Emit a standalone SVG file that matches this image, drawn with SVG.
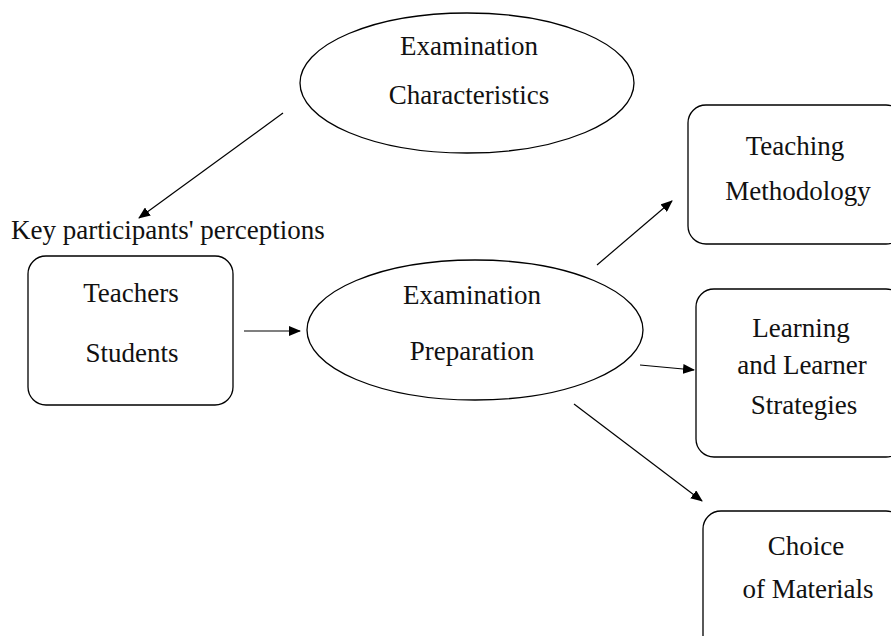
<svg xmlns="http://www.w3.org/2000/svg" width="891" height="636" viewBox="0 0 891 636">
<defs>
<style>
.shape{fill:#ffffff;stroke:#000000;stroke-width:1.3}
.lbl{font-family:'Liberation Serif','DejaVu Serif','Times New Roman',serif;font-size:27px;fill:#111111;text-anchor:middle}
.free{font-family:'Liberation Serif','DejaVu Serif','Times New Roman',serif;font-size:27px;fill:#111111}
.conn{stroke:#000000;stroke-width:1.2;fill:none;marker-end:url(#arrow)}
</style>
<marker id="arrow" viewBox="0 0 12 10" refX="11" refY="5" markerWidth="12" markerHeight="10" markerUnits="userSpaceOnUse" orient="auto">
<path d="M0,0 L12,5 L0,10 Z" fill="#000000"/>
</marker>
</defs>
<rect width="891" height="636" fill="#ffffff"/>
<g id="examination-characteristics">
<ellipse class="shape" cx="467" cy="83" rx="167" ry="70"/>
<text class="lbl" x="469" y="55" font-family="Liberation Serif, serif">Examination</text>
<text class="lbl" x="469" y="104" font-family="Liberation Serif, serif">Characteristics</text>
</g>
<g id="key-participants-label">
<text class="free" x="11" y="239" font-family="Liberation Serif, serif">Key participants' perceptions</text>
</g>
<g id="teachers-students">
<rect class="shape" x="28" y="256" width="205" height="149" rx="18" ry="18"/>
<text class="lbl" x="131" y="302" font-family="Liberation Serif, serif">Teachers</text>
<text class="lbl" x="132" y="362" font-family="Liberation Serif, serif">Students</text>
</g>
<g id="examination-preparation">
<ellipse class="shape" cx="475" cy="330" rx="168" ry="70"/>
<text class="lbl" x="472" y="304" font-family="Liberation Serif, serif">Examination</text>
<text class="lbl" x="472" y="360" font-family="Liberation Serif, serif">Preparation</text>
</g>
<g id="teaching-methodology">
<rect class="shape" x="688" y="105" width="216" height="139" rx="18" ry="18"/>
<text class="lbl" x="795" y="155" font-family="Liberation Serif, serif">Teaching</text>
<text class="lbl" x="798" y="200" font-family="Liberation Serif, serif">Methodology</text>
</g>
<g id="learning-strategies">
<rect class="shape" x="696" y="289" width="208" height="168" rx="18" ry="18"/>
<text class="lbl" x="801" y="337" font-family="Liberation Serif, serif">Learning</text>
<text class="lbl" x="802" y="374" font-family="Liberation Serif, serif">and Learner</text>
<text class="lbl" x="804" y="414" font-family="Liberation Serif, serif">Strategies</text>
</g>
<g id="choice-of-materials">
<rect class="shape" x="703" y="511" width="201" height="160" rx="18" ry="18"/>
<text class="lbl" x="806" y="555" font-family="Liberation Serif, serif">Choice</text>
<text class="lbl" x="808" y="598" font-family="Liberation Serif, serif">of Materials</text>
</g>
<g id="connectors">
<line class="conn" x1="283" y1="113" x2="139" y2="218"/>
<line class="conn" x1="244" y1="331" x2="300" y2="331"/>
<line class="conn" x1="597" y1="265" x2="672" y2="201"/>
<line class="conn" x1="640" y1="365" x2="694" y2="370"/>
<line class="conn" x1="574" y1="404" x2="702" y2="501"/>
</g>
</svg>
